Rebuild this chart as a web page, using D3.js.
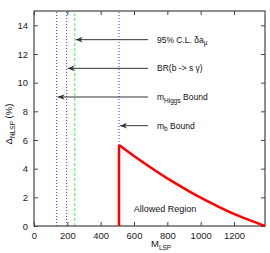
<!DOCTYPE html>
<html><head><meta charset="utf-8">
<script src="https://cdn.jsdelivr.net/npm/d3@7"></script>
<style>
body{margin:0;background:#fff}
text{font-family:"Liberation Sans",Arial,Helvetica,sans-serif;}
</style></head>
<body><svg id="c" width="270" height="253"></svg>
<script>
// Data
const xTicks = [0,200,400,600,800,1000,1200];
const yTicks = [0,2,4,6,8,10,12,14];
const curveX = [510,510,600,700,800,900,1000,1100,1200,1300,1386];
const curveY = [0,5.65,4.88,4.08,3.32,2.63,1.98,1.39,0.84,0.37,0];
const boundNames = ["95% C.L. δa","BR(b -> s γ)","m","m"];
const boundSubs  = ["μ","","Higgs","b"];
const boundSuffix = [""," "," Bound"," Bound"];
const boundY = [13,11,9,7];
const boundX = [244,196,136,510];
const lineX = [136,196,244,510];
const lineKind = ["blue","blue","green","blue"];

const svg = d3.select("#c");
const L=34,R=265,T=11,B=226;
const x = d3.scaleLinear().domain([0,1386]).range([L,R]);
const y = d3.scaleLinear().domain([0,15]).range([B,T]);
const axisCol="#444";

// vertical lines
lineX.forEach((v,i)=>{
  svg.append("line").attr("x1",x(v)).attr("x2",x(v)).attr("y1",y(0)).attr("y2",y(15))
    .attr("stroke", lineKind[i]==="green" ? "#7ef07e" : "#3030ff")
    .attr("stroke-width", lineKind[i]==="green" ? 1.5 : 1)
    .attr("stroke-dasharray", lineKind[i]==="green" ? "3,2" : "1,2");
});

// frame
svg.append("rect").attr("x",L).attr("y",T).attr("width",R-L).attr("height",B-T)
  .attr("fill","none").attr("stroke",axisCol).attr("stroke-width",1.2);

// axes
const ax = svg.append("g").attr("transform",`translate(0,${B})`)
  .call(d3.axisBottom(x).tickValues(xTicks).tickFormat(d3.format("d")).tickSizeInner(-4).tickSizeOuter(0).tickPadding(6));
const axT = svg.append("g").attr("transform",`translate(0,${T})`)
  .call(d3.axisTop(x).tickValues(xTicks).tickSizeInner(-4).tickSizeOuter(0).tickFormat(""));
const ay = svg.append("g").attr("transform",`translate(${L},0)`)
  .call(d3.axisLeft(y).tickValues(yTicks).tickSizeInner(-4).tickSizeOuter(0).tickPadding(6));
const ayR = svg.append("g").attr("transform",`translate(${R},0)`)
  .call(d3.axisRight(y).tickValues(yTicks).tickSizeInner(-4).tickSizeOuter(0).tickFormat(""));
[ax,axT,ay,ayR].forEach(g=>{
  g.select(".domain").remove();
  g.selectAll(".tick line").attr("stroke",axisCol);
  g.selectAll("text").attr("font-size",9.5).attr("fill","#222")
   .style("font-family","'Liberation Sans',Arial,sans-serif");
});

// arrows
const defs = svg.append("defs");
defs.append("marker").attr("id","ah").attr("viewBox","0 0 10 10").attr("refX",10).attr("refY",5)
  .attr("markerWidth",7).attr("markerHeight",7).attr("markerUnits","userSpaceOnUse").attr("orient","auto")
  .append("path").attr("d","M0,1 L10,5 L0,9 L3,5 Z").attr("fill","#333");
boundY.forEach((yy,i)=>{
  svg.append("line").attr("x1",x(684)).attr("x2",x(boundX[i])+1).attr("y1",y(yy)).attr("y2",y(yy))
    .attr("stroke","#333").attr("stroke-width",1).attr("marker-end","url(#ah)");
  const t = svg.append("text").attr("x",157).attr("y",y(yy)+3).attr("font-size",8.5).attr("fill","#111");
  t.append("tspan").text(boundNames[i]);
  if(boundSubs[i]) t.append("tspan").attr("dy",2.5).attr("font-size",6.5).text(boundSubs[i]);
  if(boundSuffix[i].trim()) t.append("tspan").attr("dy",boundSubs[i]?-2.5:0).text(boundSuffix[i]);
});

// red curve: vertical edge + smooth decay
const pts = curveX.map((v,i)=>[v,curveY[i]]);
const line = d3.line().x(d=>x(d[0])).y(d=>y(d[1]));
svg.append("path").datum(pts.slice(0,2)).attr("d",line)
  .attr("fill","none").attr("stroke","#ff0000").attr("stroke-width",2.5);
svg.append("path").datum(pts.slice(1)).attr("d",line.curve(d3.curveNatural))
  .attr("fill","none").attr("stroke","#ff0000").attr("stroke-width",2.5);

svg.append("text").attr("x",165).attr("y",212).attr("text-anchor","middle")
  .attr("font-size",9).attr("fill","#111").text("Allowed Region");

// axis labels
const xl = svg.append("text").attr("x",151).attr("y",247).attr("font-size",9.5).attr("fill","#111");
xl.append("tspan").text("M");
xl.append("tspan").attr("dy",2.5).attr("font-size",6.5).text("LSP");

const yl = svg.append("text").attr("transform","translate(12,124) rotate(-90)")
  .attr("text-anchor","middle").attr("font-size",9.5).attr("fill","#111");
yl.append("tspan").text("Δ");
yl.append("tspan").attr("dy",2.5).attr("font-size",6.5).text("NLSP");
yl.append("tspan").attr("dy",-2.5).text(" (%)");
</script></body></html>
